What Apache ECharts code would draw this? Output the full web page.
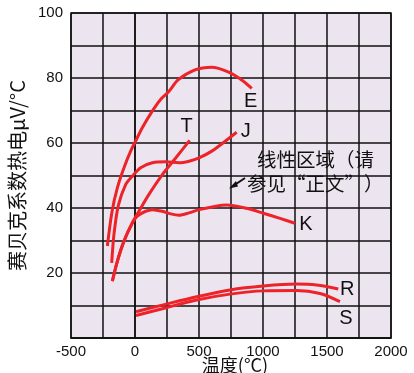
<!DOCTYPE html>
<html><head><meta charset="utf-8">
<script src="https://cdn.jsdelivr.net/npm/echarts@6/dist/echarts.min.js"></script>
<style>html,body{margin:0;padding:0;background:#fff}#c{width:414px;height:373px}</style>
</head><body><div id="c"></div>
<script>
// Data (temperature °C, Seebeck coefficient µV/°C)
var eTemp = [-216, -180, -138, -86, -34, 5, 57, 135, 200, 266, 336, 469, 599, 727, 834, 912];
var eVal  = [28.3, 38.8, 46.2, 52.4, 57.5, 60.6, 64.7, 69.8, 73.4, 75.9, 79.4, 82.5, 83.3, 81.9, 79.4, 76.8];
var jTemp = [-182, -164, -130, -73, -21, 44, 135, 240, 344, 422, 500, 600, 700, 794];
var jVal  = [23.1, 32.0, 40.8, 47.2, 49.8, 52.4, 53.9, 54.2, 53.9, 54.4, 55.4, 57.5, 60.4, 63.3];
var tTemp = [-177, -138, -86, -21, 31, 109, 214, 318, 427];
var tVal  = [17.5, 23.6, 29.8, 35.4, 39.0, 44.2, 50.3, 55.4, 60.8];
var kTemp = [-177, -138, -86, -21, 18, 83, 135, 214, 279, 344, 422, 500, 612, 716, 872, 1002, 1133, 1250];
var kVal  = [17.5, 23.6, 29.8, 35.4, 37.5, 39.0, 39.5, 39.0, 38.2, 37.8, 38.5, 39.5, 40.4, 40.9, 39.9, 38.4, 36.8, 35.3];
var rTemp = [8, 221, 482, 742, 1002, 1263, 1419, 1588];
var rVal  = [8.1, 10.2, 12.7, 14.8, 16.0, 16.6, 16.3, 15.1];
var sTemp = [8, 221, 482, 742, 1002, 1263, 1445, 1601];
var sVal  = [6.9, 9.1, 11.7, 13.5, 14.5, 14.6, 13.7, 11.2];
var xTicks = [-500, 0, 500, 1000, 1500, 2000];
var yTicks = [20, 40, 60, 80, 100];

function pairs(xs, ys){ return xs.map(function(x,i){ return [x, ys[i]]; }); }
var RED = '#ee2329';
var LAT = '"Liberation Sans", Arial, sans-serif';
var CJK = '"Noto Sans CJK SC", sans-serif';
function mk(name, xs, ys, label, off){
  return {
    type:'line', name:name, data:pairs(xs,ys), smooth:0.3, showSymbol:false, symbol:'none',
    lineStyle:{color:RED, width:3}, itemStyle:{color:RED},
    endLabel:{show:true, formatter:label, color:'#111', fontSize:20, fontFamily:LAT, offset:off, align:'center', verticalAlign:'middle', distance:0},
    animation:false, z:3
  };
}
var chart = echarts.init(document.getElementById('c'), null, {renderer:'canvas'});
chart.setOption({
  animation:false,
  grid:{left:71, right:23, top:13, bottom:35, containLabel:false, outerBoundsMode:'none',
    show:true, backgroundColor:'#ece4ef', borderColor:'#222', borderWidth:1.5},
  xAxis:{type:'value', min:-500, max:2000, interval:250,
    axisLine:{show:true, lineStyle:{color:'#111', width:1.5}}, axisTick:{show:false},
    splitLine:{show:true, lineStyle:{color:'#111', width:1.5}},
    axisLabel:{color:'#111', fontSize:15, fontFamily:LAT, margin:6,
      formatter:function(v){ return xTicks.indexOf(v)>=0 ? String(v) : ''; }},
    name:'温度(°C)', nameLocation:'middle', nameGap:18, nameMoveOverlap:false,
    nameTextStyle:{color:'#111', fontSize:18, fontFamily:CJK, padding:[0,0,0,8]}
  },
  yAxis:{type:'value', min:0, max:100, interval:10,
    axisLine:{show:true, lineStyle:{color:'#111', width:1.5}}, axisTick:{show:false},
    splitLine:{show:true, lineStyle:{color:'#111', width:1.5}},
    axisLabel:{color:'#111', fontSize:15, fontFamily:LAT, margin:8,
      formatter:function(v){ return yTicks.indexOf(v)>=0 ? String(v) : ''; }},
    name:'赛贝克系数热电μV/°C', nameLocation:'middle', nameGap:44, nameRotate:90, nameMoveOverlap:false,
    nameTextStyle:{color:'#111', fontSize:20, fontFamily:CJK}
  },
  series:[
    mk('E', eTemp, eVal, 'E', [-1, 13]),
    mk('J', jTemp, jVal, 'J', [9, -1]),
    mk('T', tTemp, tVal, 'T', [-3, -14]),
    mk('K', kTemp, kVal, 'K', [11, 1]),
    mk('R', rTemp, rVal, 'R', [9, 1]),
    mk('S', sTemp, sVal, 'S', [6, 17])
  ],
  graphic:[
    {type:'text', left:257, top:150, z:10, style:{text:'线性区域（请', fill:'#111', font:'19.5px "Noto Sans CJK SC"'}},
    {type:'text', left:247, top:174, z:10, style:{text:'参见“正文”）', fill:'#111', font:'19.5px "Noto Sans CJK SC"'}},
    {type:'line', z:10, shape:{x1:245, y1:178, x2:233, y2:186}, style:{stroke:'#111', lineWidth:2}},
    {type:'polygon', z:10, shape:{points:[[229,188.5],[236,181],[238,186.5]]}, style:{fill:'#111'}}
  ]
});
</script></body></html>
